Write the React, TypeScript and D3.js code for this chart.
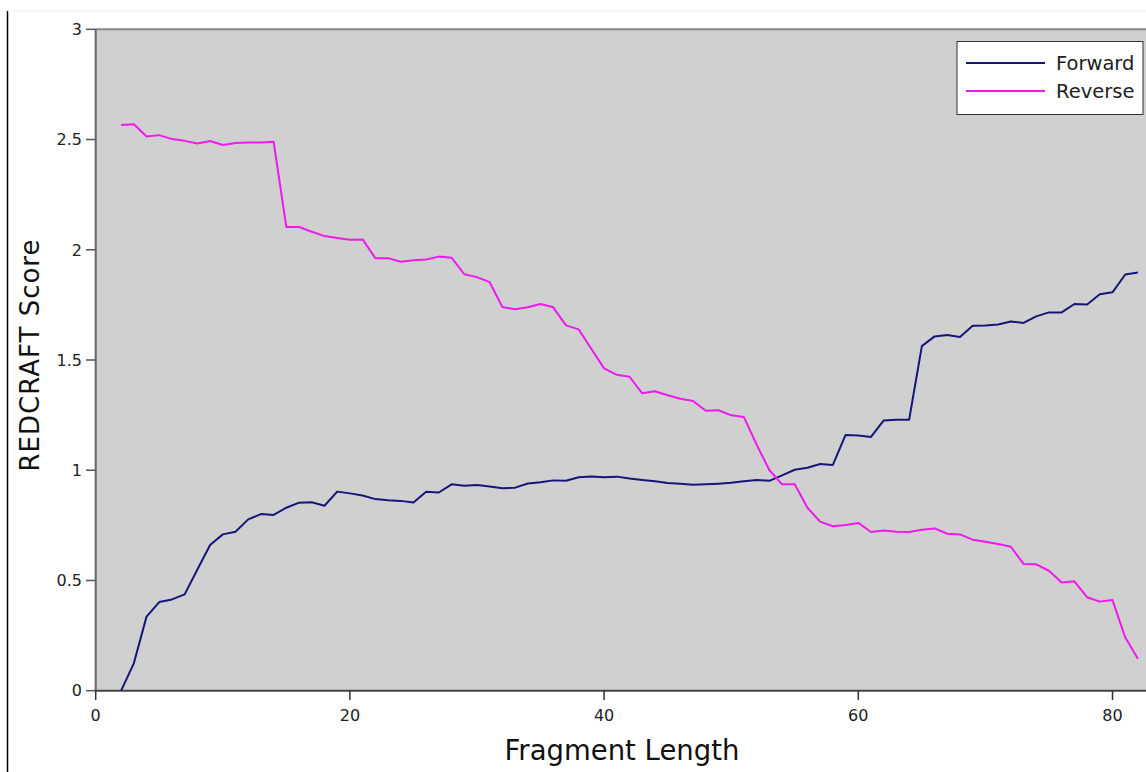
import React from "react";
import * as d3 from "d3";

// Fragment lengths (x) for both series
const fragmentLengths: number[] = d3.range(2, 83);

const forwardScores: number[] = [
  0.0, 0.124, 0.336, 0.402, 0.414, 0.437, 0.55, 0.661, 0.709, 0.721,
  0.777, 0.801, 0.797, 0.83, 0.853, 0.855, 0.839, 0.903, 0.895, 0.885,
  0.869, 0.864, 0.861, 0.854, 0.902, 0.899, 0.936, 0.93, 0.933, 0.926,
  0.918, 0.921, 0.94, 0.945, 0.954, 0.952, 0.968, 0.972, 0.968, 0.971,
  0.962, 0.956, 0.95, 0.942, 0.939, 0.934, 0.936, 0.939, 0.943, 0.95,
  0.956, 0.952, 0.977, 1.002, 1.011, 1.028, 1.024, 1.16, 1.158, 1.151,
  1.226, 1.229, 1.229, 1.563, 1.607, 1.613, 1.604, 1.655, 1.657, 1.661,
  1.675, 1.668, 1.698, 1.716, 1.716, 1.754, 1.752, 1.798, 1.807, 1.888,
  1.897,
];

const reverseScores: number[] = [
  2.566, 2.569, 2.514, 2.52, 2.502, 2.494, 2.482, 2.493, 2.475, 2.484,
  2.487, 2.487, 2.49, 2.103, 2.103, 2.082, 2.062, 2.053, 2.045, 2.047,
  1.962, 1.962, 1.946, 1.952, 1.956, 1.969, 1.964, 1.889, 1.876, 1.853,
  1.74, 1.73, 1.739, 1.754, 1.739, 1.657, 1.639, 1.55, 1.462, 1.433,
  1.424, 1.349, 1.358, 1.34, 1.324, 1.314, 1.27, 1.272, 1.249, 1.241,
  1.116, 1.001, 0.936, 0.936, 0.83, 0.767, 0.746, 0.752, 0.761, 0.72,
  0.727, 0.721, 0.72, 0.73, 0.736, 0.712, 0.709, 0.685, 0.676, 0.665,
  0.653, 0.575, 0.573, 0.544, 0.491, 0.496, 0.424, 0.404, 0.411, 0.242,
  0.145,
];

const xTicks: number[] = [0, 20, 40, 60, 80];
const yTicks: number[] = [0, 0.5, 1, 1.5, 2, 2.5, 3];

const seriesNames: string[] = ["Forward", "Reverse"];
const seriesColors: string[] = ["#16167a", "#ee1aee"];

const W = 1146;
const H = 772;
const FONT = "'DejaVu Sans', Verdana, sans-serif";

export default function App() {
  const x = d3.scaleLinear().domain([0, 83]).range([95.7, 95.7 + 83 * 12.71]);
  const y = d3.scaleLinear().domain([0, 3]).range([690.7, 29.3]);

  const line = d3
    .line<[number, number]>()
    .x((d) => x(d[0]))
    .y((d) => y(d[1]));

  const series = [forwardScores, reverseScores].map((vals) =>
    fragmentLengths.map((f, i) => [f, vals[i]] as [number, number])
  );

  const plotLeft = x(0);
  const plotTop = y(3);
  const plotBottom = y(0);

  const legendX = 957;
  const legendY = 41.5;

  return (
    <svg
      width={W}
      height={H}
      style={{ position: "absolute", left: 0, top: 0, background: "#fff" }}
    >
      {/* outer frame edges */}
      <line x1={7.5} y1={11} x2={7.5} y2={H} stroke="#000" strokeWidth={1.5} />
      <line x1={8} y1={11} x2={W} y2={11} stroke="#eeeeee" strokeWidth={1} />

      {/* plot background */}
      <rect
        x={plotLeft}
        y={plotTop}
        width={W - plotLeft}
        height={plotBottom - plotTop}
        fill="#d0d0d0"
      />
      <line x1={plotLeft} y1={plotTop} x2={W} y2={plotTop} stroke="#888" strokeWidth={2} />
      <line x1={plotLeft} y1={plotTop} x2={plotLeft} y2={plotBottom} stroke="#666" strokeWidth={2} />
      <line x1={plotLeft - 1} y1={plotBottom} x2={W} y2={plotBottom} stroke="#444" strokeWidth={2} />

      {/* y axis ticks */}
      {yTicks.map((t) => (
        <g key={"y" + t}>
          <line x1={86} x2={plotLeft} y1={y(t)} y2={y(t)} stroke="#555" strokeWidth={1.5} />
          <text
            x={82}
            y={y(t)}
            dy="0.36em"
            textAnchor="end"
            fontFamily={FONT}
            fontSize={16}
            fill="#222"
          >
            {t}
          </text>
        </g>
      ))}

      {/* x axis ticks */}
      {xTicks.map((t) => (
        <g key={"x" + t}>
          <line x1={x(t)} x2={x(t)} y1={plotBottom} y2={700} stroke="#333" strokeWidth={1.5} />
          <text
            x={x(t)}
            y={721}
            textAnchor="middle"
            fontFamily={FONT}
            fontSize={16}
            fill="#222"
          >
            {t}
          </text>
        </g>
      ))}

      {/* series lines */}
      {series.map((pts, i) => (
        <path
          key={seriesNames[i]}
          d={line(pts) ?? ""}
          fill="none"
          stroke={seriesColors[i]}
          strokeWidth={2}
          strokeLinejoin="round"
        />
      ))}

      {/* axis titles */}
      <text
        x={622}
        y={760}
        textAnchor="middle"
        fontFamily={FONT}
        fontSize={27.5}
        fill="#111"
      >
        Fragment Length
      </text>
      <text
        transform={`translate(39, 355) rotate(-90)`}
        textAnchor="middle"
        fontFamily={FONT}
        fontSize={26}
        letterSpacing={1}
        fill="#111"
      >
        REDCRAFT Score
      </text>

      {/* legend */}
      <rect
        x={legendX}
        y={legendY}
        width={186}
        height={73}
        fill="#fff"
        stroke="#333"
        strokeWidth={1}
      />
      {seriesNames.map((name, i) => (
        <g key={"lg" + name}>
          <line
            x1={966}
            x2={1045}
            y1={63 + i * 28}
            y2={63 + i * 28}
            stroke={seriesColors[i]}
            strokeWidth={2}
          />
          <text
            x={1056}
            y={63 + i * 28}
            dy="0.36em"
            fontFamily={FONT}
            fontSize={19.5}
            fill="#222"
          >
            {name}
          </text>
        </g>
      ))}
    </svg>
  );
}
